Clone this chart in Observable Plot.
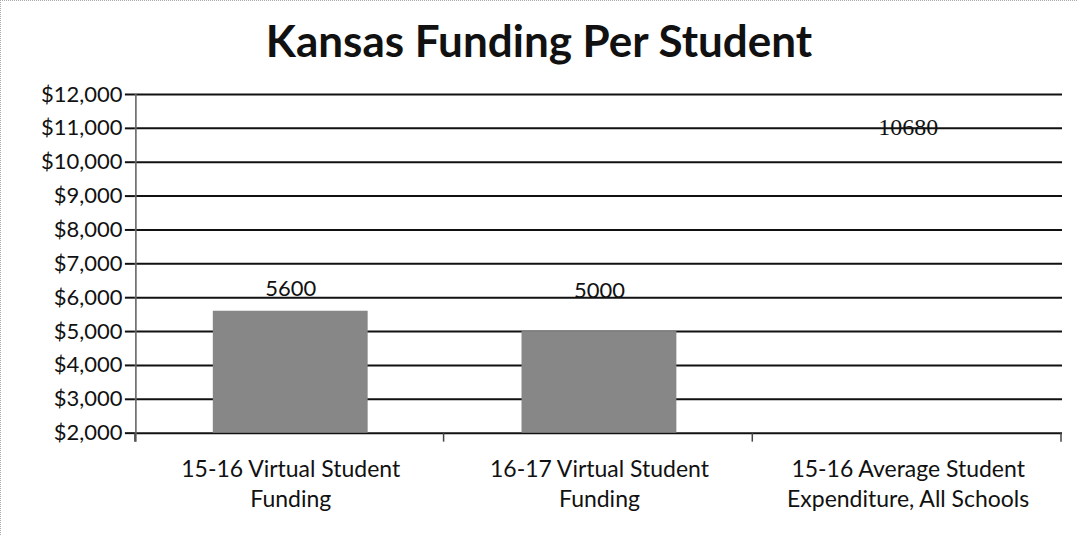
<!DOCTYPE html>
<html>
<head>
<meta charset="utf-8">
<script src="https://cdn.jsdelivr.net/npm/d3@7"></script>
<script src="https://cdn.jsdelivr.net/npm/@observablehq/plot@0.6"></script>
<style>
  body { margin: 0; background: #fff; }
  #wrap { position: relative; width: 1077px; height: 535px; overflow: hidden; box-sizing: border-box;
          border-top: 1px dotted #aaa; border-left: 1px dotted #aaa; background: #fff; }
  #title { height: 79px; box-sizing: border-box; padding-top: 17px; text-align: center;
           font-family: Lato, "Open Sans", sans-serif; font-weight: 700; font-size: 44px; line-height: 1; color: #111; }
  #chart svg { display: block; overflow: visible; }
</style>
</head>
<body>
<div id="wrap">
  <div id="title">Kansas Funding Per Student</div>
  <div id="chart"></div>
</div>
<script>
// ---- data ----
const categories = [
  "15-16 Virtual Student Funding",
  "16-17 Virtual Student Funding",
  "15-16 Average Student Expenditure, All Schools"
];
const values = [5600, 5000, 10680];
const yTicks = [2000, 3000, 4000, 5000, 6000, 7000, 8000, 9000, 10000, 11000, 12000];

const data = categories.map((c, i) => ({category: c, value: values[i]}));

const wrapLabel = d => d.replace("Student ", "Student\n");
const sans = "Lato, 'Open Sans', sans-serif";

// axis line on the left + category boundary ticks, drawn from the scales
function axisLines(index, scales, vals, dims) {
  const x = scales.x, y = scales.y;
  const step = x(categories[1]) - x(categories[0]);
  const y0 = y(yTicks[0]), yTop = y(yTicks[yTicks.length - 1]);
  const g = d3.create("svg:g");
  g.append("line")
    .attr("x1", dims.marginLeft + 1).attr("x2", dims.marginLeft + 1)
    .attr("y1", yTop).attr("y2", y0 + 9)
    .attr("stroke", "#666").attr("stroke-width", 1.6);
  for (let i = 0; i <= categories.length; i++) {
    const xx = dims.marginLeft + i * step;
    g.append("line")
      .attr("x1", xx).attr("x2", xx)
      .attr("y1", y0).attr("y2", y0 + 9)
      .attr("stroke", "#444").attr("stroke-width", 1.5);
  }
  return g.node();
}

const chart = Plot.plot({
  width: 1077,
  height: 455,
  marginTop: 14,
  marginBottom: 102,
  marginLeft: 134,
  marginRight: 15,
  style: {fontFamily: sans, fontSize: "22px", color: "#111", background: "transparent", overflow: "visible"},
  x: {domain: categories, paddingInner: 0.5, paddingOuter: 0.25, label: null},
  y: {domain: [2000, 12000], label: null},
  marks: [
    Plot.gridY(yTicks, {stroke: "#111", strokeOpacity: 1, strokeWidth: 2}),
    Plot.axisY({ticks: yTicks, tickFormat: d3.format("$,"), tickSize: 10, tickPadding: 3,
                fontSize: 22, strokeWidth: 2, stroke: "#111", label: null}),
    Plot.axisX({tickSize: 0, tickPadding: 22, tickFormat: wrapLabel, fontSize: 23,
                lineHeight: 1.32, label: null}),
    Plot.barY(data, {x: "category", y1: 2000, y2: "value", fill: "#878787",
                     fillOpacity: (d, i) => (i < 2 ? 1 : 0)}),
    axisLines,
    Plot.text([data[0]], {x: "category", y: "value", text: d => String(d.value), dy: -22,
                          fontSize: 22, fontFamily: sans, fill: "#111"}),
    Plot.text([data[1]], {x: "category", y: "value", text: d => String(d.value), dy: -41,
                          fontSize: 22, fontFamily: sans, fill: "#111"}),
    Plot.text([data[2]], {x: "category", y: "value", text: d => String(d.value), dy: -12,
                          fontSize: 24, fontFamily: "'Liberation Serif', serif", fill: "#111"})
  ]
});
document.getElementById("chart").appendChild(chart);
</script>
</body>
</html>
